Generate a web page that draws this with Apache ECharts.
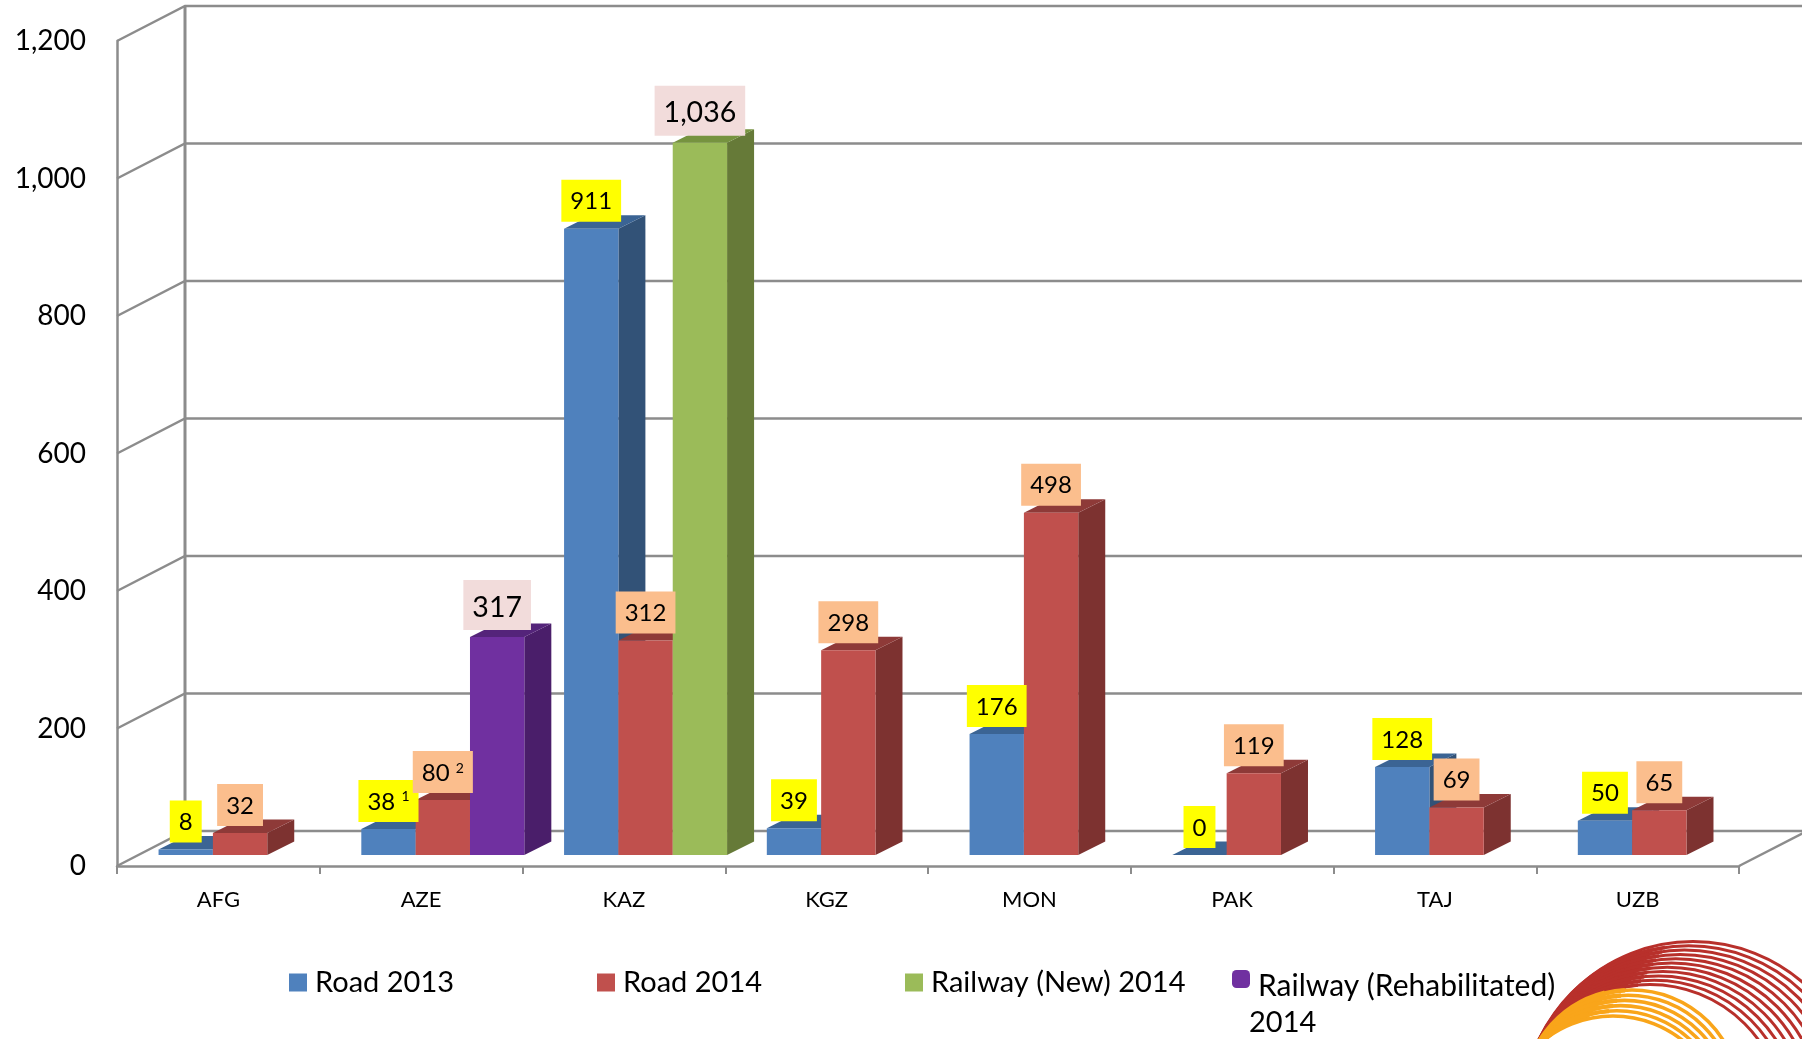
<!DOCTYPE html>
<html>
<head>
<meta charset="utf-8">
<title>Road and railway</title>
<script src="https://cdn.jsdelivr.net/npm/echarts@6/dist/echarts.min.js"></script>
<style>
html,body{margin:0;padding:0;background:#fff;}
#main{width:1802px;height:1039px;}
</style>
</head>
<body>
<div id="main"></div>
<script>
var categories = ['AFG','AZE','KAZ','KGZ','MON','PAK','TAJ','UZB'];
var yTicks = [0,200,400,600,800,1000,1200];
var road2013 = [8,38,911,39,176,0,128,50];
var road2014 = [32,80,312,298,498,119,69,65];
var railwayNew = [null,null,1036,null,null,null,null,null];
var railwayRehab = [null,317,null,null,null,null,null,null];
var road2013Notes = ['','1','','','','','',''];
var road2014Notes = ['','2','','','','','',''];

var FONT = 'Lato';
var LINE = '#8c8c8c';
// depth of the box and of a bar, in pixels
var WALL_DX = 68, WALL_DY = -35;
var BASE_DX = 0, BASE_DY = -11;
var BAR_DX = 27, BAR_DY = -13.5;

function wallItem(params, api) {
	var box = params.coordSys;
	var left = box.x, right = box.x + box.width;
	var y = api.coord([0, api.value(1)])[1];
	var lineStyle = {stroke:LINE, lineWidth:2.5, fill:null};
	var children = [{
		type:'polyline',
		shape:{points:[[left,y],[left+WALL_DX,y+WALL_DY],[right+WALL_DX,y+WALL_DY]]},
		style:lineStyle
	}];
	if (api.value(1) === 0) {
		var top = box.y;
		children.push({
			type:'line',
			shape:{x1:right,y1:y,x2:right+WALL_DX,y2:y+WALL_DY},
			style:lineStyle
		});
		children.push({
			type:'line',
			shape:{x1:left+WALL_DX,y1:y+WALL_DY,x2:left+WALL_DX,y2:top+WALL_DY},
			style:{stroke:LINE,lineWidth:3}
		});
	}
	return {type:'group',children:children};
}

function barRender(slot, colors, notes, label) {
	return function(params, api) {
		var i = api.value(0), v = api.value(1);
		if (isNaN(v)) {
			return null;
		}
		var band = api.size([1,0])[0];
		var w = band * 0.268;
		var x = api.coord([i,0])[0] - band/2 + band*0.205 + slot*w + BASE_DX;
		var y0 = api.coord([i,0])[1] + BASE_DY;
		var y1 = api.coord([i,v])[1] + BASE_DY;
		var note = notes ? notes[i] : '';
		return {type:'group',children:[
			{type:'polygon',shape:{points:[[x+w,y0],[x+w+BAR_DX,y0+BAR_DY],[x+w+BAR_DX,y1+BAR_DY],[x+w,y1]]},style:{fill:colors[2]}},
			{type:'polygon',shape:{points:[[x,y1],[x+BAR_DX,y1+BAR_DY],[x+w+BAR_DX,y1+BAR_DY],[x+w,y1]]},style:{fill:colors[1]}},
			{type:'rect',shape:{x:x,y:y1,width:w,height:y0-y1},style:{fill:colors[0]}},
			{
				type:'text',z2:100,x:x+w/2,y:y1-7,
				style:{
					text:v.toLocaleString('en-US')+(note ? ' {sup|'+note+'}' : ''),
					rich:{sup:{font:'14px '+FONT,fill:'#000',verticalAlign:'top'}},
					fill:'#000',
					font:label.size+'px '+FONT,
					align:'center',verticalAlign:'bottom',
					backgroundColor:label.color,
					padding:label.pad
				}
			}
		]};
	};
}

function barSeries(name, values, slot, colors, notes, label) {
	return {
		name:name,
		type:'custom',
		clip:false,
		silent:true,
		itemStyle:{color:colors[0]},
		encode:{x:0,y:1},
		data:values.map(function(v,i){ return [i,v]; }),
		renderItem:barRender(slot,colors,notes,label)
	};
}

var smallYellow = {size:24,color:'#ffff00',pad:[10,9,8,9]};
var smallPeach = {size:24,color:'#fbbe8d',pad:[10,9,8,9]};
var bigPink = {size:28.5,color:'#f2dcdb',pad:[13,9,8,9]};

// logo arcs: each one is a circle through the same point low on the left
function logoCircle(px, py) {
	var ax = 1538, ay = 1045;
	var cy = ((ax-px)*(ax-px) + ay*ay - py*py) / (2*(ay-py));
	return {cx:px,cy:cy,r:cy-py};
}
function logoArc(px, py, color, width) {
	return {
		type:'circle',z:1,silent:true,
		shape:logoCircle(px,py),
		style:{fill:null,stroke:color,lineWidth:width}
	};
}
// thick left part of an arc, closes the gaps up to xEnd so the stripes merge
function logoSolid(px, py, xEnd, color, width) {
	var c = logoCircle(px,py);
	var dx = xEnd - c.cx;
	var a = Math.atan2(-Math.sqrt(c.r*c.r - dx*dx), dx);
	return {
		type:'arc',z:1,silent:true,
		shape:{cx:c.cx,cy:c.cy,r:c.r,startAngle:Math.PI,endAngle:2*Math.PI+a,clockwise:true},
		style:{fill:null,stroke:color,lineWidth:width}
	};
}
var logo = [];
var n;
for (n = 0; n < 11; n++) {
	logo.push(logoArc(1693-4.3*n, 941.5+4.3*n, '#b8302b', 3));
	if (n > 0) {
		logo.push(logoSolid(1693-4.3*n, 941.5+4.3*n, 1668-3*n, '#b8302b', 3.6));
		logo.push(logoSolid(1693-4.3*n, 941.5+4.3*n, 1655-3*n, '#b8302b', 4.2));
		logo.push(logoSolid(1693-4.3*n, 941.5+4.3*n, 1640-3*n, '#b8302b', 5.6));
	}
}
for (n = 0; n < 6; n++) {
	logo.push(logoArc(1632-3.8*n, 990+5.2*n, '#f9a51a', 3.6));
	if (n < 5) {
		logo.push(logoSolid(1632-3.8*n, 990+5.2*n, 1625-4*n, '#f9a51a', 4.4));
		logo.push(logoSolid(1632-3.8*n, 990+5.2*n, 1605-4*n, '#f9a51a', 6));
	}
}

function legendBlock(left, top, name, icon, extra) {
	var block = {
		left:left,top:top,
		orient:'horizontal',
		data:[{name:name,icon:icon}],
		itemWidth:18,itemHeight:18,
		selectedMode:false,
		padding:0,
		textStyle:{fontFamily:FONT,fontSize:29,color:'#000',padding:[0,0,0,3]}
	};
	for (var k in extra) {
		block[k] = extra[k];
	}
	return block;
}

var myChart = echarts.init(document.getElementById('main'));
myChart.setOption({
	animation:false,
	backgroundColor:'#fff',
	textStyle:{fontFamily:FONT},
	grid:{left:117,right:63,top:41,bottom:173},
	xAxis:{
		type:'category',
		data:categories,
		axisLine:{lineStyle:{color:LINE,width:2.5}},
		axisTick:{show:true,length:8,lineStyle:{color:LINE,width:2}},
		axisLabel:{color:'#000',fontFamily:FONT,fontSize:22,margin:23}
	},
	yAxis:{
		type:'value',
		min:0,max:1200,interval:200,
		axisLine:{show:true,lineStyle:{color:LINE,width:2.5}},
		axisTick:{show:false},
		splitLine:{show:false},
		axisLabel:{
			color:'#000',fontFamily:FONT,fontSize:28,margin:31,
			formatter:function(v){ return v.toLocaleString('en-US'); }
		}
	},
	legend:[
		legendBlock(289,968,'Road 2013','rect'),
		legendBlock(597,968,'Road 2014','rect'),
		legendBlock(905,968,'Railway (New) 2014','rect'),
		// the marker sits higher than its text here, so the two lines of text are drawn apart
		legendBlock(1232,970,'Railway (Rehabilitated) 2014','roundRect',{
			formatter:function(){ return ' '; },
			textStyle:{fontFamily:FONT,fontSize:12,color:'#000'}
		})
	],
	graphic:logo.concat([{
		type:'text',left:1258,top:971,silent:true,
		style:{text:'Railway (Rehabilitated)',fill:'#000',font:'30px '+FONT}
	},{
		type:'text',left:1249,top:1008,silent:true,
		style:{text:'2014',fill:'#000',font:'29px '+FONT}
	}]),
	series:[
		{
			type:'custom',
			clip:false,
			silent:true,
			encode:{x:0,y:1},
			data:yTicks.map(function(v){ return [0,v]; }),
			renderItem:wallItem
		},
		barSeries('Road 2013',road2013,0,['#4f81bd','#3b6494','#325277'],road2013Notes,smallYellow),
		barSeries('Road 2014',road2014,1,['#c0504d','#8e3a38','#7d3230'],road2014Notes,smallPeach),
		barSeries('Railway (New) 2014',railwayNew,2,['#9bbb59','#76933f','#667a38'],null,bigPink),
		barSeries('Railway (Rehabilitated) 2014',railwayRehab,2,['#7030a0','#54247a','#4a1e6a'],null,bigPink)
	]
});
</script>
</body>
</html>
